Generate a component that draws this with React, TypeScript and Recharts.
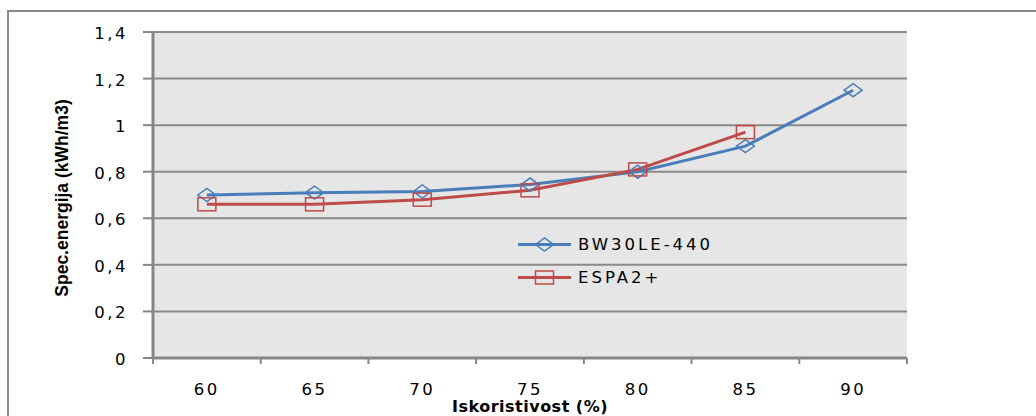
import { CartesianGrid, Legend, Line, LineChart, XAxis, YAxis } from "recharts";

const categories = [60, 65, 70, 75, 80, 85, 90];
const bw30le = [0.7, 0.71, 0.715, 0.745, 0.8, 0.91, 1.15];
const espa2 = [0.66, 0.66, 0.68, 0.72, 0.81, 0.97, null];
const yTicks = [0, 0.2, 0.4, 0.6, 0.8, 1, 1.2, 1.4];
const xTickMarks = [57.5, 62.5, 67.5, 72.5, 77.5, 82.5, 87.5, 92.5];

const data = categories.map((c, i) => ({ x: c, bw: bw30le[i], espa: espa2[i] }));
const allXTicks = [...xTickMarks, ...categories].sort((a, b) => a - b);

const BLUE = "#4a7ebb";
const RED = "#be4b48";
const AXIS = "#868686";
const GRID = "#8a8a8a";

const fmt = (v: number) => String(v).replace(".", ",");

function Diamond({ cx, cy, color }: { cx: number; cy: number; color: string }) {
  return (
    <polygon
      points={`${cx - 9},${cy} ${cx},${cy - 6.5} ${cx + 9},${cy} ${cx},${cy + 6.5}`}
      fill="none"
      stroke={color}
      strokeWidth={1.5}
    />
  );
}

function Square({ cx, cy, color }: { cx: number; cy: number; color: string }) {
  return <rect x={cx - 9} y={cy - 6.5} width={18} height={13} fill="none" stroke={color} strokeWidth={1.5} />;
}

const markerDot = (shape: "diamond" | "square", color: string) => (props: any) => {
  const { cx, cy, index } = props;
  if (cy == null || cx == null || props.value == null) return <g key={`${shape}-${index}`} />;
  return (
    <g key={`${shape}-${index}`}>
      {shape === "diamond" ? <Diamond cx={cx} cy={cy} color={color} /> : <Square cx={cx} cy={cy} color={color} />}
    </g>
  );
};

function XTick({ x, y, payload }: any) {
  if (categories.includes(payload.value)) {
    return (
      <text x={x} y={y} dy={37} textAnchor="middle" fill="#000" fontSize={16.5} fontFamily="DejaVu Sans" letterSpacing={2.5}>
        {payload.value}
      </text>
    );
  }
  return <line x1={x} x2={x} y1={y} y2={y + 6} stroke={AXIS} strokeWidth={2} />;
}

function YTick({ x, y, payload }: any) {
  return (
    <text x={x} y={y} dy={7} textAnchor="end" fill="#000" fontSize={16.5} fontFamily="DejaVu Sans" letterSpacing={2.5}>
      {fmt(payload.value)}
    </text>
  );
}

function XTitle({ viewBox }: any) {
  return (
    <text
      x={viewBox.x + viewBox.width / 2}
      y={viewBox.y + 54}
      textAnchor="middle"
      fontSize={16}
      fontWeight="bold"
      fontFamily="DejaVu Sans"
      letterSpacing={0.5}
      fill="#000"
    >
      Iskoristivost (%)
    </text>
  );
}

function YTitle({ viewBox }: any) {
  const cx = 68;
  const cy = viewBox.y + viewBox.height / 2 + 3;
  return (
    <text
      x={cx}
      y={cy}
      transform={`rotate(-90 ${cx} ${cy})`}
      textAnchor="middle"
      fontSize={17.5}
      fontWeight="bold"
      fontFamily="Liberation Sans"
      fill="#000"
    >
      Spec.energija (kWh/m3)
    </text>
  );
}

function LegendBox({ payload }: any) {
  return (
    <div style={{ display: "flex", flexDirection: "column" }}>
      {(payload || []).map((entry: any) => (
        <div key={entry.value} style={{ height: 33, display: "flex", alignItems: "center" }}>
          <svg width={60} height={33}>
            <line x1={0} x2={53} y1={16.5} y2={16.5} stroke={entry.color} strokeWidth={3} />
            {entry.dataKey === "bw" ? (
              <Diamond cx={26.5} cy={16.5} color={entry.color} />
            ) : (
              <Square cx={26.5} cy={16.5} color={entry.color} />
            )}
          </svg>
          <span style={{ fontFamily: "DejaVu Sans", fontSize: 16.5, letterSpacing: 3, color: "#000" }}>{entry.value}</span>
        </div>
      ))}
    </div>
  );
}

export default function App() {
  return (
    <div style={{ position: "absolute", left: 0, top: 0, width: 1036, height: 416, overflow: "hidden", background: "#fff" }}>
      <div
        style={{
          position: "absolute",
          left: 7,
          top: 10,
          width: 1060,
          height: 440,
          borderTop: `2px solid ${GRID}`,
          borderLeft: `2px solid ${GRID}`,
          pointerEvents: "none",
        }}
      />
      <div style={{ position: "absolute", left: 0, top: 0 }}>
        <LineChart width={1036} height={416} data={data} margin={{ top: 32, right: 129, bottom: 28, left: 0 }}>
          <CartesianGrid vertical={false} horizontal stroke={GRID} strokeWidth={2} fill="#e6e6e6" />
          <XAxis
            dataKey="x"
            type="number"
            domain={[57.5, 92.5]}
            ticks={allXTicks}
            interval={0}
            height={30}
            tickSize={0}
            tickMargin={0}
            tickLine={false}
            axisLine={{ stroke: AXIS, strokeWidth: 3 }}
            tick={<XTick />}
            label={<XTitle />}
          />
          <YAxis
            domain={[0, 1.4]}
            ticks={yTicks}
            interval={0}
            width={153}
            tickSize={10}
            tickMargin={15}
            tickLine={{ stroke: AXIS, strokeWidth: 2 }}
            axisLine={{ stroke: AXIS, strokeWidth: 3 }}
            tick={<YTick />}
            label={<YTitle />}
          />
          <Legend
            layout="vertical"
            align="center"
            verticalAlign="middle"
            wrapperStyle={{ left: 518, top: 228, width: "auto" }}
            content={<LegendBox />}
          />
          <Line
            type="linear"
            dataKey="bw"
            name="BW30LE-440"
            stroke={BLUE}
            strokeWidth={3}
            dot={markerDot("diamond", BLUE)}
            activeDot={false}
            isAnimationActive={false}
          />
          <Line
            type="linear"
            dataKey="espa"
            name="ESPA2+"
            stroke={RED}
            strokeWidth={3}
            dot={markerDot("square", RED)}
            activeDot={false}
            isAnimationActive={false}
          />
        </LineChart>
      </div>
    </div>
  );
}
